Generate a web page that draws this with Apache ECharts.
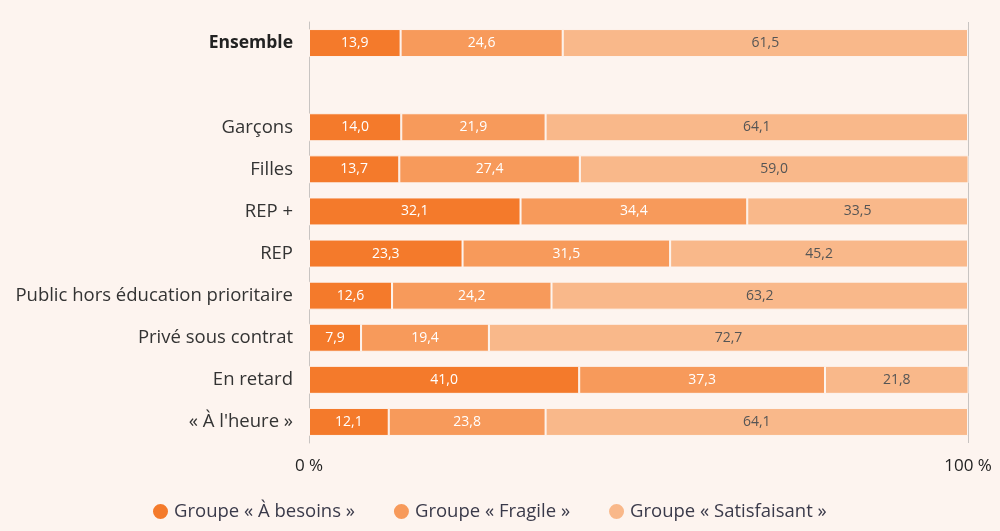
<!DOCTYPE html>
<html>
<head>
<meta charset="utf-8">
<script src="https://cdn.jsdelivr.net/npm/echarts@6/dist/echarts.min.js"></script>
<style>
  html, body { margin: 0; padding: 0; background: #fdf4ef; }
  #chart { width: 1000px; height: 531px; }
</style>
</head>
<body>
<div id="chart"></div>
<script>
// categories top to bottom; '' is the blank row under Ensemble
const categories = ['Ensemble', '', 'Garçons', 'Filles', 'REP +', 'REP',
  'Public hors éducation prioritaire', 'Privé sous contrat', 'En retard', '« À l\'heure »'];
const besoins = [13.9, null, 14.0, 13.7, 32.1, 23.3, 12.6, 7.9, 41.0, 12.1];
const fragile = [24.6, null, 21.9, 27.4, 34.4, 31.5, 24.2, 19.4, 37.3, 23.8];
const satisfaisant = [61.5, null, 64.1, 59.0, 33.5, 45.2, 63.2, 72.7, 21.8, 64.1];
const seriesNames = ['Groupe « À besoins »', 'Groupe « Fragile »', 'Groupe « Satisfaisant »'];
const colors = ['#f47a2b', '#f79a5b', '#f9b88a'];

const bg = '#fdf4ef';
const font = 'Open Sans';

const chart = echarts.init(document.getElementById('chart'));

function fmt(p) {
  return p.value == null ? '' : p.value.toFixed(1).replace('.', ',');
}

function makeSeries(name, data, color, labelColor) {
  return {
    name: name,
    type: 'bar',
    stack: 'total',
    barWidth: 28,
    data: data,
    itemStyle: { color: color, borderColor: bg, borderWidth: 1 },
    label: {
      show: true,
      position: 'inside',
      color: labelColor,
      fontFamily: font,
      fontSize: 14,
      formatter: fmt
    },
    emphasis: { disabled: true }
  };
}

chart.setOption({
  backgroundColor: bg,
  animation: false,
  grid: { left: 309, right: 32, top: 22, bottom: 88 },
  xAxis: {
    type: 'value',
    min: 0,
    max: 100,
    interval: 100,
    axisLine: { show: false },
    axisTick: { show: false },
    splitLine: { show: true, lineStyle: { color: '#c8c4c2', width: 1 } },
    axisLabel: {
      margin: 15,
      color: '#222',
      fontFamily: font,
      fontSize: 17,
      formatter: v => v + ' %'
    }
  },
  yAxis: {
    type: 'category',
    inverse: true,
    data: categories,
    axisLine: { show: true, lineStyle: { color: '#c8c4c2' } },
    axisTick: { show: false },
    axisLabel: {
      margin: 16,
      color: '#333',
      fontFamily: font,
      fontSize: 18.5,
      formatter: v => v === 'Ensemble' ? '{b|' + v + '}' : v,
      rich: { b: { fontWeight: 'bold', fontFamily: font, fontSize: 17.5, color: '#222' } }
    }
  },
  legend: {
    bottom: 5,
    left: 146,
    itemWidth: 17,
    itemHeight: 17,
    itemGap: 37,
    icon: 'circle',
    textStyle: { color: '#3a3a4a', fontFamily: font, fontSize: 18.5 },
    data: seriesNames
  },
  series: [
    makeSeries(seriesNames[0], besoins, colors[0], '#ffffff'),
    makeSeries(seriesNames[1], fragile, colors[1], '#ffffff'),
    makeSeries(seriesNames[2], satisfaisant, colors[2], '#555555')
  ]
});
</script>
</body>
</html>
